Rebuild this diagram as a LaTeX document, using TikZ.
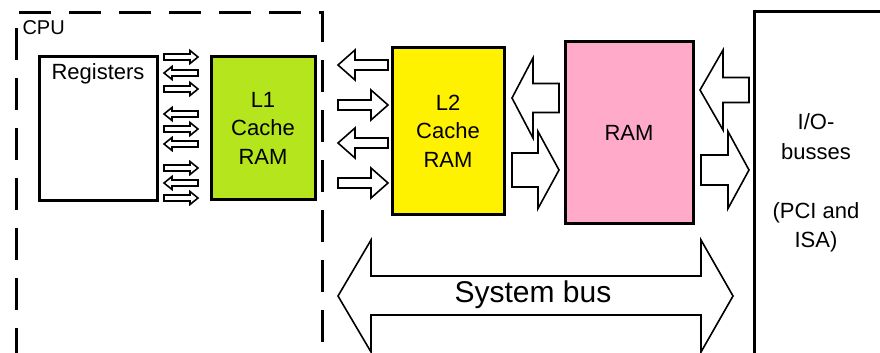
\documentclass[tikz,border=0pt]{standalone}
\usepackage{fontspec}
\setmainfont{Liberation Sans}
\usepackage{xcolor}
\usepackage{tikz}
\usetikzlibrary{positioning,calc}

\definecolor{lonegreen}{HTML}{B5E51D}
\definecolor{ltwoyellow}{HTML}{FFF200}
\definecolor{rampink}{HTML}{FFAAC9}

% block arrows: tail x, tip x, y, shaft half, head half, head length
\newcommand{\rblock}[6]{\draw[blockarrow] (#1,#3-#4) -- (#2-#6,#3-#4) -- (#2-#6,#3-#5) -- (#2,#3) -- (#2-#6,#3+#5) -- (#2-#6,#3+#4) -- (#1,#3+#4) -- cycle;}
\newcommand{\lblock}[6]{\draw[blockarrow] (#1,#3) -- (#1+#6,#3-#5) -- (#1+#6,#3-#4) -- (#2,#3-#4) -- (#2,#3+#4) -- (#1+#6,#3+#4) -- (#1+#6,#3+#5) -- cycle;}

\begin{document}
\begin{tikzpicture}[
    x=1pt, y=-1pt,
    box/.style={rectangle, draw, line width=3pt, inner sep=0pt, align=center, font=\fontsize{22}{28.5}\selectfont},
    blockarrow/.style={draw, line width=1.6pt, fill=white, line join=miter},
    cpuline/.style={line width=3pt, dash pattern=on 32pt off 18pt}
]
    \useasboundingbox (0,0) rectangle (880,353);

    % CPU boundary
    \draw[cpuline] (16,360) -- (16,13) -- (322,13) -- (322,360);
    \node[anchor=west, font=\fontsize{20}{24}\selectfont] (cpu) at (19,28) {CPU};

    % Boxes
    \node[box, minimum width=118pt, minimum height=143pt] (regs) at (98,128.5) {};
    \node[font=\fontsize{22}{26}\selectfont, below=5pt of regs.north] (regstext) {Registers};
    \node[box, fill=lonegreen, minimum width=104pt, minimum height=142pt] (lone) at (263,128) {L1\\Cache\\RAM};
    \node[box, fill=ltwoyellow, minimum width=112pt, minimum height=166pt] (ltwo) at (448,131) {L2\\Cache\\RAM};
    \node[box, fill=rampink, minimum width=128pt, minimum height=181pt] (ram) at (629,132.5) {RAM};

    % I/O busses
    \draw[line width=3pt] (890,12) -- (754,12) -- (754,365);
    \node[align=center, font=\fontsize{22}{29.5}\selectfont] (io) at (816,183) {I/O-\\busses\\[29.5pt](PCI and\\ISA)};

    % Registers <-> L1
    \rblock{164}{198}{57}{3}{6.5}{8}
    \lblock{164}{198}{73}{3}{6.5}{8}
    \rblock{164}{198}{89}{3}{6.5}{8}
    \lblock{164}{198}{114}{3}{6.5}{8}
    \rblock{164}{198}{129}{3}{6.5}{8}
    \lblock{164}{198}{144}{3}{6.5}{8}
    \rblock{164}{198}{168}{3}{6.5}{8}
    \lblock{164}{198}{183}{3}{6.5}{8}
    \rblock{164}{198}{198}{3}{6.5}{8}

    % CPU <-> L2
    \lblock{338}{388}{65}{5}{15}{17}
    \rblock{338}{388}{105}{5}{15}{17}
    \lblock{338}{388}{143}{5}{15}{17}
    \rblock{338}{388}{183}{5}{15}{17}

    % L2 <-> RAM
    \lblock{512}{559}{98}{14.5}{40}{21}
    \rblock{512}{559}{170}{17}{38.5}{21}

    % RAM <-> I/O
    \lblock{700}{749}{90}{12.5}{40}{23}
    \rblock{701}{749}{170}{15}{38.5}{21}

    % System bus
    \draw[blockarrow] (338,296) -- (371,240) -- (371,276) -- (701,276) -- (701,240) -- (733,296) -- (701,352) -- (701,315) -- (371,315) -- (371,352) -- cycle;
    \node[font=\fontsize{30}{36}\selectfont] (sysbus) at (533,295) {System bus};
\end{tikzpicture}
\end{document}
